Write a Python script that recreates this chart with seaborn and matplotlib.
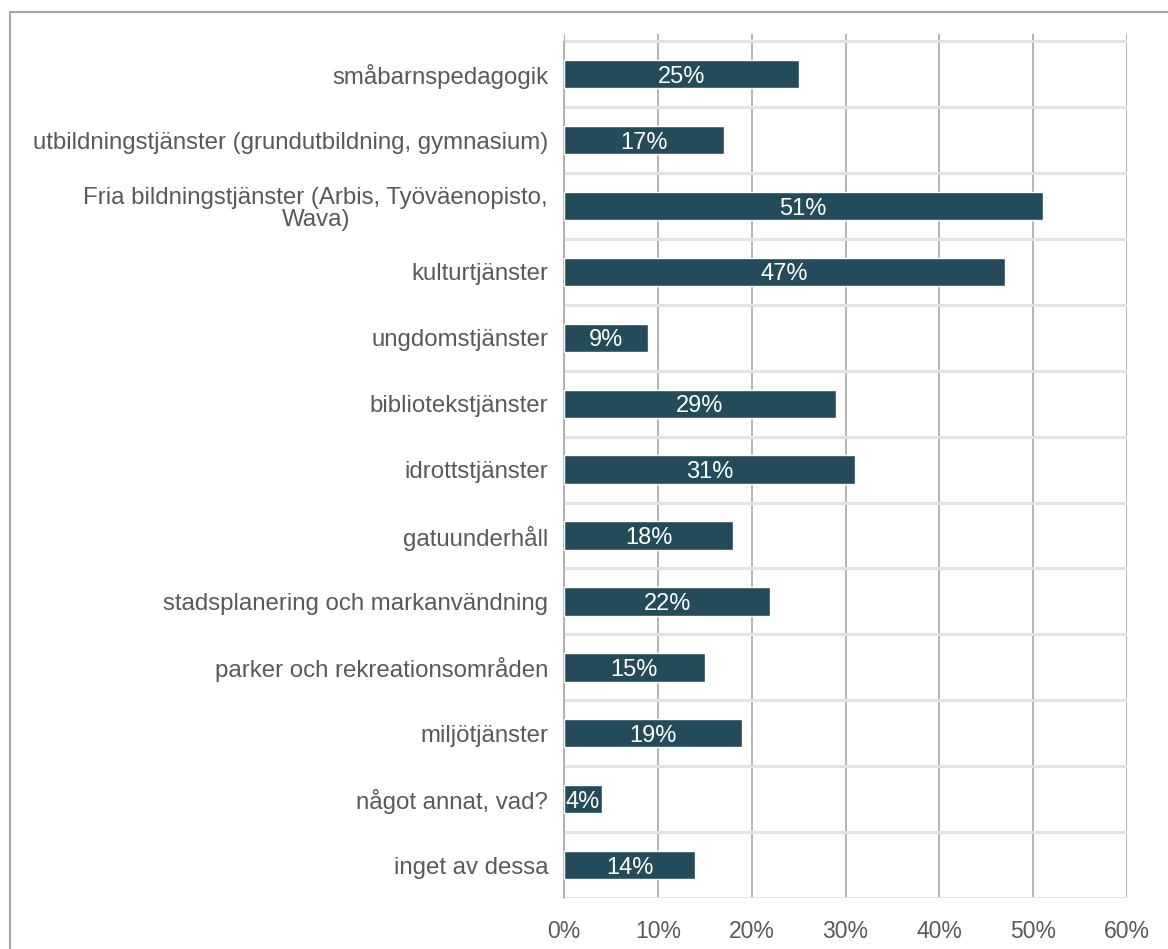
import matplotlib
matplotlib.use("Agg")
import matplotlib.pyplot as plt
import seaborn as sns
import pandas as pd
from matplotlib.patches import Rectangle

kategorier = [
    "småbarnspedagogik",
    "utbildningstjänster (grundutbildning, gymnasium)",
    "Fria bildningstjänster (Arbis, Työväenopisto,\nWava)",
    "kulturtjänster",
    "ungdomstjänster",
    "bibliotekstjänster",
    "idrottstjänster",
    "gatuunderhåll",
    "stadsplanering och markanvändning",
    "parker och rekreationsområden",
    "miljötjänster",
    "något annat, vad?",
    "inget av dessa",
]
andelar = [25, 17, 51, 47, 9, 29, 31, 18, 22, 15, 19, 4, 14]
xticks = [0, 10, 20, 30, 40, 50, 60]

sns.set_theme(style="white")
plt.rcParams["font.family"] = ["Liberation Sans", "DejaVu Sans"]

df = pd.DataFrame({"kategori": kategorier, "andel": andelar})

fig = plt.figure(figsize=(11.68, 9.49), dpi=100)
ax = fig.add_axes([564 / 1168, 1 - 898 / 949, (1127 - 564) / 1168, (898 - 34) / 949])

sns.barplot(data=df, y="kategori", x="andel", orient="h", color="#234B5A",
            saturation=1, width=0.43, ax=ax, zorder=3)

# gränser mellan kategorierna
for i in range(len(kategorier) + 1):
    ax.axhline(i - 0.5, color="#e3e3e3", lw=2.2, zorder=1)

ax.set_xlim(0, 60)
ax.set_ylim(len(kategorier) - 0.5, -0.61)
ax.set_xticks(xticks)
ax.set_xticklabels([f"{t}%" for t in xticks], color="#595959", fontsize=16.5)
ax.tick_params(axis="x", length=0, pad=16)
ax.grid(axis="x", color="#a0a0a0", lw=1.1, zorder=0)
ax.set_axisbelow(True)

ax.set_yticks([i - 0.5 for i in range(len(kategorier) + 1)], minor=True)
ax.tick_params(axis="y", which="minor", length=7, color="#a6a6a6", width=1)
ax.tick_params(axis="y", which="major", length=0, pad=11.5)
for lbl in ax.get_yticklabels():
    lbl.set_color("#595959")
    lbl.set_fontsize(17.3)
    lbl.set_multialignment("center")
    lbl.set_linespacing(1.05)

ax.set_xlabel("")
ax.set_ylabel("")
for s in ["top", "right", "bottom"]:
    ax.spines[s].set_visible(False)
ax.spines["left"].set_color("#a6a6a6")
ax.spines["left"].set_linewidth(1.1)
ax.spines["left"].set_bounds(len(kategorier) - 0.5, -0.5)

for i, v in enumerate(andelar):
    t = ax.text(v / 2, i, f"{v}%", color="white", fontsize=17,
                ha="center", va="center_baseline", zorder=4)
    t.set_clip_path(ax.patches[i])

fig.patches.append(Rectangle((10 / 1168, -0.1), 1.2, 1 - 12 / 949 + 0.1,
                             transform=fig.transFigure, fill=False,
                             edgecolor="#a6a6a6", lw=1.5))

fig.savefig("out.png", dpi=100)
